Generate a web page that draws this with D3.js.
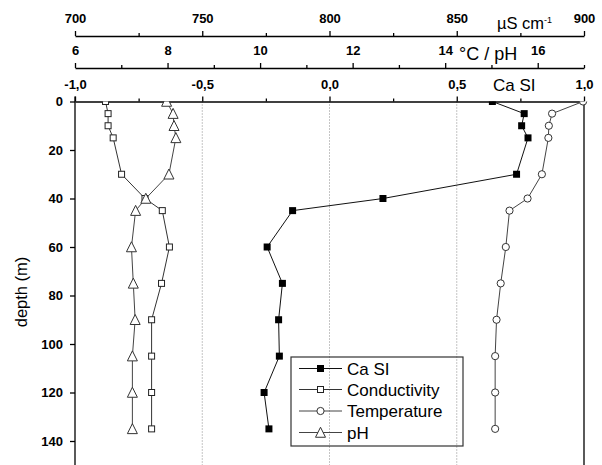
<!DOCTYPE html>
<html><head><meta charset="utf-8">
<script src="https://cdn.jsdelivr.net/npm/d3@7"></script>
<style>
body{margin:0;background:#fff;}
svg{display:block;}
text{font-family:"Liberation Sans",Arial,sans-serif;}
</style></head>
<body>
<script>
const depths = [0, 5, 10, 15, 30, 40, 45, 60, 75, 90, 105, 120, 135];
const caSI = [0.64, 0.765, 0.755, 0.78, 0.735, 0.21, -0.145, -0.245, -0.185, -0.2, -0.197, -0.257, -0.238];
const conductivity = [712, 713, 713, 715, 718.3, 727.5, 734.3, 737.1, 734, 730.1, 730.1, 730.1, 730.1];
const temperature = [16.98, 16.31, 16.24, 16.23, 16.09, 15.78, 15.39, 15.31, 15.2, 15.11, 15.08, 15.08, 15.08];
const pH = [7.98, 8.12, 8.14, 8.18, 8.03, 7.53, 7.31, 7.22, 7.26, 7.3, 7.24, 7.24, 7.24];

const condTicks = [700, 750, 800, 850, 900];
const condMinor = [725, 775, 825, 875];
const tempTicks = [6, 8, 10, 12, 14, 16];
const tempMinor = [7, 9, 11, 13, 15, 17];
const caTicks = [-1, -0.5, 0, 0.5, 1];
const caMinor = [-0.75, -0.25, 0.25, 0.75];
const caGrid = [-0.5, 0, 0.5];
const depthTicks = [0, 20, 40, 60, 80, 100, 120, 140];

(function () {
const W = 602, H = 465;
const pLeft = 75, pRight = 584, pTop = 101.5, pBottom = 465.25;

const svg = d3.select("body").append("svg").attr("width", W).attr("height", H);

const y = d3.scaleLinear().domain([0, 150]).range([pTop, pBottom]);
const xCa = d3.scaleLinear().domain([-1, 1]).range([pLeft, pRight]);
const xCond = d3.scaleLinear().domain([700, 900]).range([pLeft, pRight]);
const xT = d3.scaleLinear().domain([6, 17]).range([pLeft, pRight]);

svg.append("defs").append("clipPath").attr("id", "clip")
  .append("rect").attr("x", pLeft).attr("y", pTop).attr("width", pRight - pLeft + 6).attr("height", pBottom - pTop);

// grid lines
svg.append("g").selectAll("line").data(caGrid).join("line")
  .attr("x1", d => xCa(d)).attr("x2", d => xCa(d))
  .attr("y1", pTop).attr("y2", H)
  .attr("stroke", "#8a8a8a").attr("stroke-width", 1).attr("stroke-dasharray", "1,2");

function styleAxis(g) {
  g.select(".domain").attr("stroke", "#000").attr("stroke-width", 1.3);
  g.selectAll(".tick line").attr("stroke", "#000").attr("stroke-width", 1.3);
  g.selectAll(".tick text").attr("fill", "#000")
    .style("font-family", "'Liberation Sans',Arial,sans-serif")
    .style("font-weight", "bold").style("font-size", "13px");
}

function topAxis(scale, yPos, major, minor, fmt) {
  const g = svg.append("g").attr("transform", `translate(0,${yPos})`)
    .call(d3.axisTop(scale).tickValues(major).tickSize(5).tickSizeOuter(0).tickPadding(8).tickFormat(fmt));
  styleAxis(g);
  const gm = svg.append("g").attr("transform", `translate(0,${yPos})`)
    .call(d3.axisTop(scale).tickValues(minor).tickSize(3).tickSizeOuter(0).tickFormat(""));
  styleAxis(gm);
  gm.select(".domain").remove();
}

topAxis(xCond, 36, condTicks, condMinor, d3.format("d"));
topAxis(xT, 68, tempTicks, tempMinor, d3.format("d"));
topAxis(xCa, pTop, caTicks, caMinor, d => d3.format(".1f")(d).replace(".", ",").replace("−", "-"));

// left axis
const gy = svg.append("g").attr("transform", `translate(${pLeft},0)`)
  .call(d3.axisLeft(y).tickValues(depthTicks).tickSize(5).tickSizeOuter(0).tickPadding(7));
styleAxis(gy);
gy.select(".domain").attr("d", `M0,${pTop - 5}V${H}`);

// right border
svg.append("line").attr("x1", pRight).attr("x2", pRight).attr("y1", pTop).attr("y2", H)
  .attr("stroke", "#000").attr("stroke-width", 1.3);

// axis titles
const t1 = svg.append("text").attr("x", 497).attr("y", 29).style("font-size", "16.5px");
t1.append("tspan").text("µS cm");
t1.append("tspan").attr("dy", -6).style("font-size", "9px").text("-1");
svg.append("text").attr("x", 459).attr("y", 60).style("font-size", "18px").text("°C / pH");
svg.append("text").attr("x", 493).attr("y", 90.5).style("font-size", "17px").text("Ca SI");
svg.append("text").attr("transform", "translate(27,292) rotate(-90)").attr("text-anchor", "middle")
  .style("font-size", "16.5px").text("depth (m)");

// series
const plot = svg.append("g").attr("clip-path", "url(#clip)");

function triPath(cx, cy, s) {
  const h = s * 0.95;
  return `M${cx},${cy - h / 2 - 0.5}L${cx + s / 2},${cy + h / 2}L${cx - s / 2},${cy + h / 2}Z`;
}

function drawMarker(g, type, cx, cy) {
  if (type === "fsq") {
    g.append("rect").attr("x", cx - 3.5).attr("y", cy - 3.5).attr("width", 7).attr("height", 7).attr("fill", "#000");
  } else if (type === "osq") {
    g.append("rect").attr("x", cx - 3).attr("y", cy - 3).attr("width", 6).attr("height", 6)
      .attr("fill", "#fff").attr("stroke", "#222").attr("stroke-width", 1);
  } else if (type === "circ") {
    g.append("circle").attr("cx", cx).attr("cy", cy).attr("r", 3.6)
      .attr("fill", "#fff").attr("stroke", "#333").attr("stroke-width", 1);
  } else if (type === "tri") {
    g.append("path").attr("d", triPath(cx, cy, 10))
      .attr("fill", "#fff").attr("stroke", "#333").attr("stroke-width", 1);
  }
}

const series = [
  {vals: caSI, x: xCa, type: "fsq", color: "#111", name: "Ca SI"},
  {vals: conductivity, x: xCond, type: "osq", color: "#333", name: "Conductivity"},
  {vals: temperature, x: xT, type: "circ", color: "#444", name: "Temperature"},
  {vals: pH, x: xT, type: "tri", color: "#444", name: "pH"}
];

series.forEach(s => {
  const pts = depths.map((d, i) => [s.x(s.vals[i]), y(d)]);
  plot.append("path").attr("d", d3.line()(pts)).attr("fill", "none")
    .attr("stroke", s.color).attr("stroke-width", 1);
  pts.forEach(p => drawMarker(plot, s.type, p[0], p[1]));
});

// legend
const lg = svg.append("g");
lg.append("rect").attr("x", 291).attr("y", 357).attr("width", 172).attr("height", 89)
  .attr("fill", "none").attr("stroke", "#333").attr("stroke-width", 1.2);
const legY = [368.5, 389.5, 411, 432.5];
series.forEach((s, i) => {
  lg.append("line").attr("x1", 299).attr("x2", 342).attr("y1", legY[i]).attr("y2", legY[i])
    .attr("stroke", s.color).attr("stroke-width", 1);
  drawMarker(lg, s.type, 320.5, legY[i]);
  lg.append("text").attr("x", 347).attr("y", legY[i] + 6).style("font-size", "17px").text(s.name);
});
})();
</script>
</body></html>
